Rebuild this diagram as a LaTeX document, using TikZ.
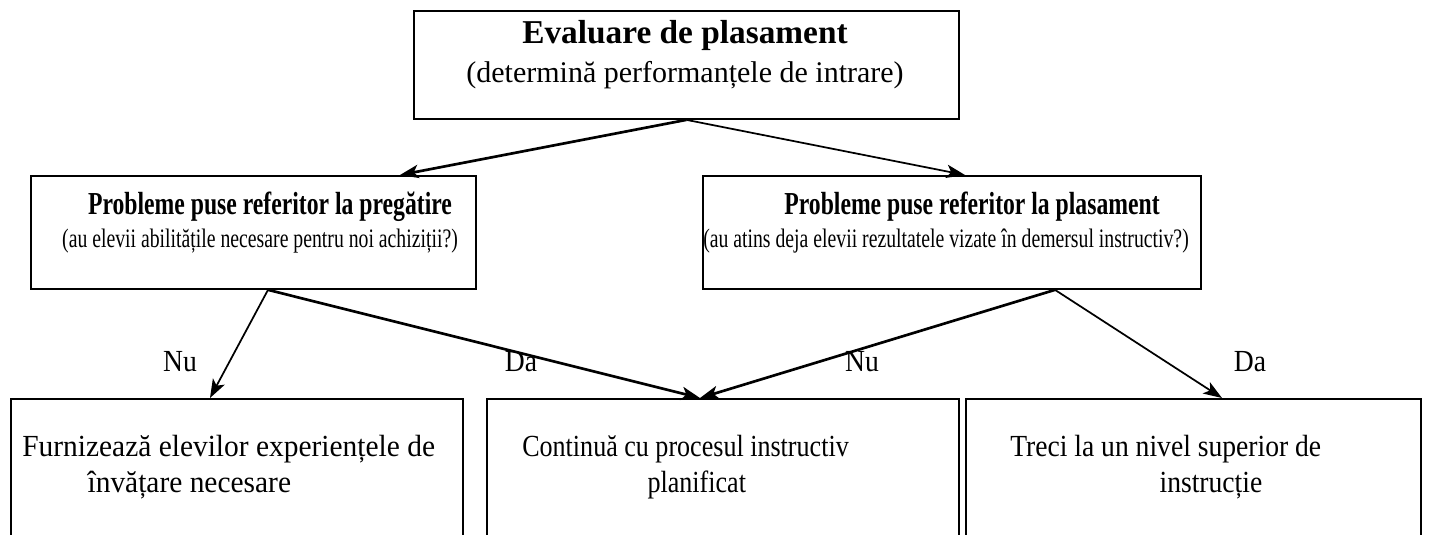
\documentclass[tikz,border=0pt]{standalone}
\usepackage{fontspec}
\setmainfont{Liberation Serif}
\newfontfamily\narrowfont[FakeStretch=0.74]{Liberation Serif}
\newfontfamily\bodyfont[FakeStretch=0.9]{Liberation Serif}
\newfontfamily\bodywidefont[FakeStretch=0.96]{Liberation Serif}
\newfontfamily\bodytightfont[FakeStretch=0.85]{Liberation Serif}
\newcommand\bodysize{\fontsize{23}{27.5}\selectfont}
\usetikzlibrary{calc,arrows.meta}
\begin{document}
\begin{tikzpicture}[x=0.75pt,y=-0.75pt,
  box/.style={draw,line width=1.4pt,anchor=north west,inner sep=0pt},
  title/.style={font=\fontsize{25}{28}\selectfont\bfseries},
  sub/.style={font=\fontsize{22.5}{26}\selectfont},
  midtitle/.style={font=\narrowfont\fontsize{24}{28}\selectfont\bfseries},
  midsub/.style={font=\narrowfont\fontsize{20}{24}\selectfont},
  body/.style={align=left,anchor=west,inner sep=0pt},
  lbl/.style={font=\bodyfont\fontsize{23}{26}\selectfont},
  conn/.style={line width=2pt,-{Stealth[length=14pt,width=10pt,inset=3.5pt]}},
  thinconn/.style={conn,line width=1.3pt}]
\clip (0,0) rectangle (1429,535);
% boxes
\node[box,minimum width=545*0.75pt,minimum height=108*0.75pt] (top) at (413,10) {};
\node[box,minimum width=445*0.75pt,minimum height=113*0.75pt] (lm) at (30,175) {};
\node[box,minimum width=498*0.75pt,minimum height=113*0.75pt] (rm) at (702,175) {};
\node[box,minimum width=452*0.75pt,minimum height=160*0.75pt] (bl) at (10,398) {};
\node[box,minimum width=472*0.75pt,minimum height=160*0.75pt] (bm) at (486,398) {};
\node[box,minimum width=455*0.75pt,minimum height=160*0.75pt] (br) at (965,398) {};
% texts
\node[title] (t1) at (685,35) {Evaluare de plasament};
\node[sub] (t2) at (685,75) {(determină performanțele de intrare)};
\node[midtitle] (l1) at (270,207) {Probleme puse referitor la pregătire};
\node[midsub] (l2) at (260,241) {(au elevii abilitățile necesare pentru noi achiziții?)};
\node[midtitle] (r1) at (972,207) {Probleme puse referitor la plasament};
\node[midsub] (r2) at (946,241) {(au atins deja elevii rezultatele vizate în demersul instructiv?)};
\node[body,font=\bodywidefont\bodysize] (b1) at (22,467) {Furnizează elevilor experiențele de\\\hspace*{49pt}învățare necesare};
\node[body,font=\bodytightfont\bodysize] (b2) at (522,467) {Continuă cu procesul instructiv\\\hspace*{94pt}planificat};
\node[body,font=\bodyfont\bodysize] (b3) at (1010,467) {Treci la un nivel superior de\\\hspace*{112pt}instrucție};
% connectors
\draw[conn] (top.south) -- ($(lm.north west)+(370,0)$);
\draw[thinconn] (top.south) -- ($(rm.north west)+(263,0)$);
\coordinate (lo) at ($(lm.south west)+(238,0)$);
\coordinate (ro) at ($(rm.south west)+(353,0)$);
\draw[thinconn] (lo) -- ($(bl.north west)+(200,0)$);
\draw[conn] (lo) -- ($(bm.north west)+(214,0)$);
\draw[conn] (ro) -- ($(bm.north west)+(214,0)$);
\draw[thinconn] (ro) -- ($(br.north west)+(257,0)$);
% branch labels
\node[lbl] (n1) at (180,362) {Nu};
\node[lbl] (d1) at (521,362) {Da};
\node[lbl] (n2) at (862,362) {Nu};
\node[lbl] (d2) at (1250,362) {Da};
\end{tikzpicture}
\end{document}
